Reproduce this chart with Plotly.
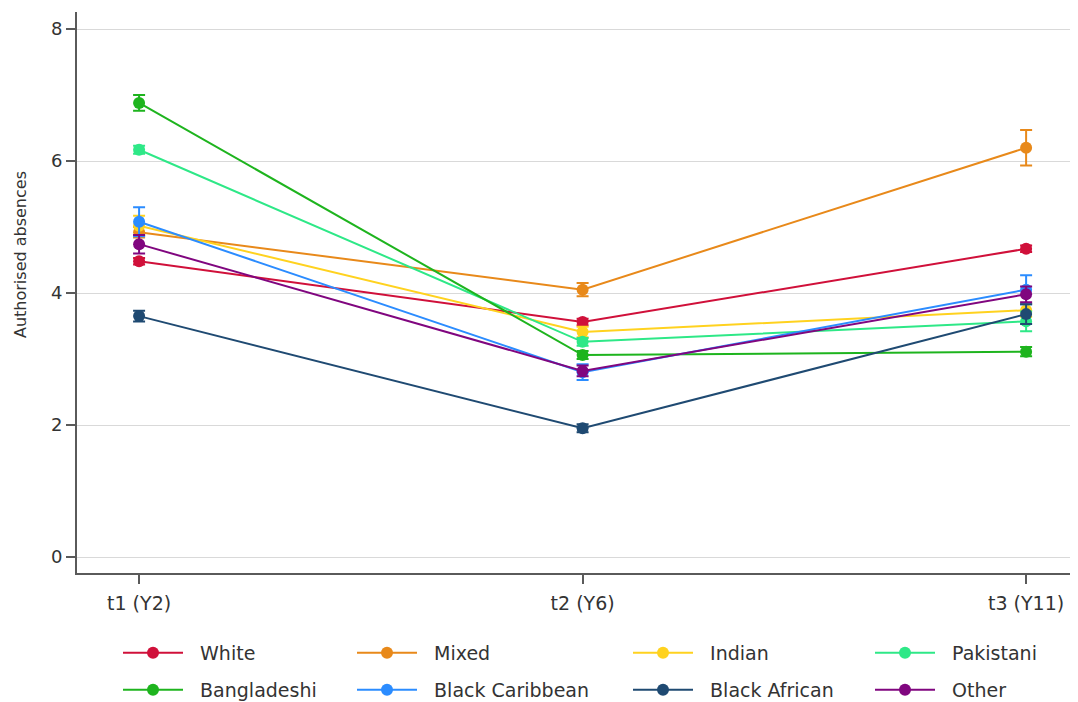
import plotly.graph_objects as go

timepoints = [1, 2, 3]
tick_labels = ["t1 (Y2)", "t2 (Y6)", "t3 (Y11)"]
y_title = "Authorised absences"

groups = ["White", "Mixed", "Indian", "Pakistani",
          "Bangladeshi", "Black Caribbean", "Black African", "Other"]

white = [4.48, 3.56, 4.67]
mixed = [4.92, 4.05, 6.20]
indian = [5.02, 3.41, 3.74]
pakistani = [6.17, 3.26, 3.57]
bangladeshi = [6.88, 3.06, 3.11]
black_caribbean = [5.08, 2.80, 4.05]
black_african = [3.65, 1.95, 3.68]
other = [4.74, 2.82, 3.98]

white_err = [0.05, 0.05, 0.05]
mixed_err = [0.08, 0.10, 0.27]
indian_err = [0.15, 0.08, 0.10]
pakistani_err = [0.06, 0.06, 0.15]
bangladeshi_err = [0.12, 0.06, 0.07]
black_caribbean_err = [0.22, 0.12, 0.22]
black_african_err = [0.08, 0.06, 0.15]
other_err = [0.14, 0.08, 0.12]

values = [white, mixed, indian, pakistani, bangladeshi, black_caribbean, black_african, other]
errors = [white_err, mixed_err, indian_err, pakistani_err, bangladeshi_err,
          black_caribbean_err, black_african_err, other_err]
colors = ["#d0103a", "#e8891a", "#ffd21f", "#2ee887",
          "#1eb41e", "#2b8cff", "#1f4a72", "#80067f"]

W, H = 1070, 694
ML, MT, MB = 69, 4, 129
plot_w, plot_h = W - ML, H - MT - MB
# legend slot positions (container pixels): left edge x, row centre y
legend_x = [110, 344, 620, 862]
legend_y = [645, 682]

FONT = "DejaVu Sans, Liberation Sans, Arial, sans-serif"

fig = go.Figure()
layout_legends = {}
for i, (name, v, e, c) in enumerate(zip(groups, values, errors, colors)):
    key = "legend" if i == 0 else f"legend{i + 1}"
    fig.add_trace(go.Scatter(
        x=timepoints, y=v, name="\u00a0\u00a0" + name, mode="lines+markers",
        line=dict(color=c, width=2),
        marker=dict(color=c, size=12),
        error_y=dict(type="data", array=e, visible=True, color=c, thickness=2, width=6),
        legend=key,
    ))
    col, row = i % 4, i // 4
    layout_legends[key] = dict(
        xref="container", yref="container",
        x=legend_x[col] / W, xanchor="left",
        y=1 - legend_y[row] / H, yanchor="middle",
        font=dict(size=19, family=FONT, color="#333333"),
        itemwidth=60, bgcolor="rgba(0,0,0,0)", borderwidth=0,
    )

fig.add_annotation(
    text=y_title, textangle=-90, showarrow=False,
    xref="paper", yref="paper",
    x=-56 / plot_w, y=(565 - 247) / plot_h,
    xanchor="center", yanchor="middle",
    font=dict(size=16, family=FONT, color="#333333"),
)

fig.update_layout(
    width=W, height=H,
    paper_bgcolor="white", plot_bgcolor="white",
    margin=dict(l=ML, r=0, t=MT, b=MB, autoexpand=False),
    font=dict(family=FONT, color="#333333", size=18),
    xaxis=dict(
        range=[0.860, 3.117], tickvals=timepoints, ticktext=tick_labels,
        showgrid=False, showline=True, linecolor="#5a5a5a", linewidth=2,
        ticks="outside", ticklen=9, tickcolor="#5a5a5a", tickwidth=1.5,
        tickfont=dict(size=19), zeroline=False, automargin=False,
        ticklabelstandoff=3,
    ),
    yaxis=dict(
        range=[-0.2424, 8.2576], tickvals=[0, 2, 4, 6, 8],
        showgrid=True, gridcolor="#d9d9d9", gridwidth=1,
        showline=True, linecolor="#5a5a5a", linewidth=2,
        ticks="outside", ticklen=9, tickcolor="#5a5a5a", tickwidth=1.5,
        tickfont=dict(size=18), zeroline=False, automargin=False,
    ),
    showlegend=True,
    **layout_legends,
)

fig.write_html("out.html")
